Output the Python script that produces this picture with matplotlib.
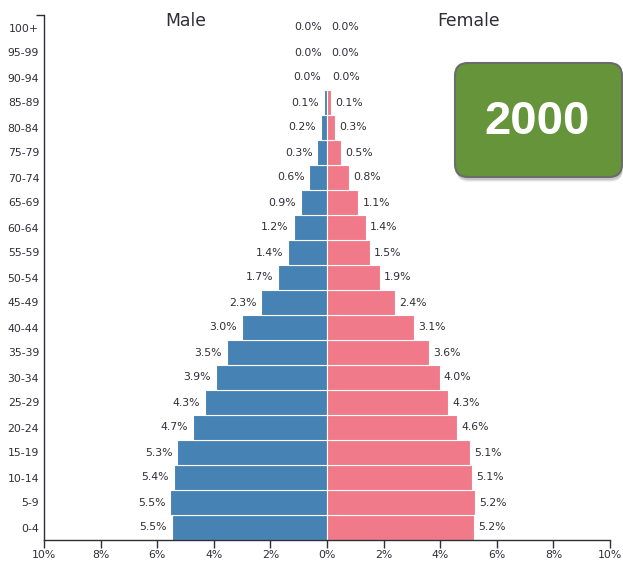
#!/usr/bin/env python3

import matplotlib
matplotlib.use("Agg")
import matplotlib.pyplot as plt
from matplotlib.patches import FancyBboxPatch
from matplotlib.transforms import IdentityTransform

ages = ["0-4", "5-9", "10-14", "15-19", "20-24", "25-29", "30-34", "35-39",
        "40-44", "45-49", "50-54", "55-59", "60-64", "65-69", "70-74", "75-79",
        "80-84", "85-89", "90-94", "95-99", "100+"]
male = [5.49, 5.54, 5.42, 5.29, 4.72, 4.32, 3.93, 3.53, 3.0, 2.32, 1.72, 1.38,
        1.18, 0.92, 0.62, 0.34, 0.2, 0.1, 0.035, 0.008, 0.002]
female = [5.19, 5.24, 5.12, 5.06, 4.6, 4.28, 3.98, 3.6, 3.08, 2.4, 1.87, 1.52,
          1.38, 1.1, 0.78, 0.5, 0.28, 0.13, 0.04, 0.01, 0.002]
year = "2000"

blue = "#4682b4"
pink = "#f07a89"
dark = "#2e2e38"

fig = plt.figure(figsize=(6.23, 5.64), dpi=100)
ax = fig.add_axes([44 / 623, 24 / 564, 566 / 623, 525 / 564])

y = list(range(len(ages)))
ax.barh(y, [-v for v in male], height=0.97, color=blue, edgecolor="white", linewidth=0.8)
ax.barh(y, female, height=0.97, color=pink, edgecolor="white", linewidth=0.8)

for i in y:
    ax.annotate(f"{male[i]:.1f}%", (-male[i], i), xytext=(-3.6, 0), textcoords="offset points",
                ha="right", va="center", fontsize=7.8, color=dark)
    ax.annotate(f"{female[i]:.1f}%", (female[i], i), xytext=(3, 0), textcoords="offset points",
                ha="left", va="center", fontsize=7.8, color=dark)

ax.set_xlim(-10, 10)
ax.set_ylim(-0.5, len(ages) - 0.5)
ticks = list(range(-10, 11, 2))
ax.set_xticks(ticks)
ax.set_xticklabels([f"{abs(t)}%" for t in ticks])
ax.set_yticks(y)
ax.set_yticklabels(ages)
ax.set_yticks([len(ages) - 0.5], minor=True)
ax.tick_params(axis="x", length=6, width=1, color=dark, labelcolor=dark,
               pad=1.5, labelsize=7.8)
ax.tick_params(axis="y", which="major", length=0, labelcolor=dark, pad=3.5, labelsize=7.8)
ax.tick_params(axis="y", which="minor", length=6, width=1, color=dark)
for s in ["top", "right"]:
    ax.spines[s].set_visible(False)
for s in ["left", "bottom"]:
    ax.spines[s].set_color(dark)
    ax.spines[s].set_linewidth(1)

fig.text(185.5 / 623, 1 - 21 / 564, "Male", ha="center", va="center", fontsize=12.4, color=dark)
fig.text(468.5 / 623, 1 - 21 / 564, "Female", ha="center", va="center", fontsize=12.4, color=dark)

# year badge, in pixels
bx, by, bw, bh = 455, 564 - 177, 167, 114
for k, a in [(5, 0.06), (4, 0.08), (3, 0.1)]:
    fig.patches.append(FancyBboxPatch((bx + 1, by - k), bw, bh,
                                      boxstyle="round,pad=0,rounding_size=13",
                                      transform=IdentityTransform(), facecolor="black",
                                      edgecolor="none", alpha=a))
fig.patches.append(FancyBboxPatch((bx, by), bw, bh, boxstyle="round,pad=0,rounding_size=13",
                                  transform=IdentityTransform(), facecolor="#65943a",
                                  edgecolor="#6b6b6b", linewidth=1.5))
fig.text(537 / 623, 1 - 122 / 564, year, ha="center", va="center", fontsize=34,
         fontweight="bold", family="Liberation Sans", color="white")

fig.savefig("out.png", dpi=100)
plt.close(fig)
